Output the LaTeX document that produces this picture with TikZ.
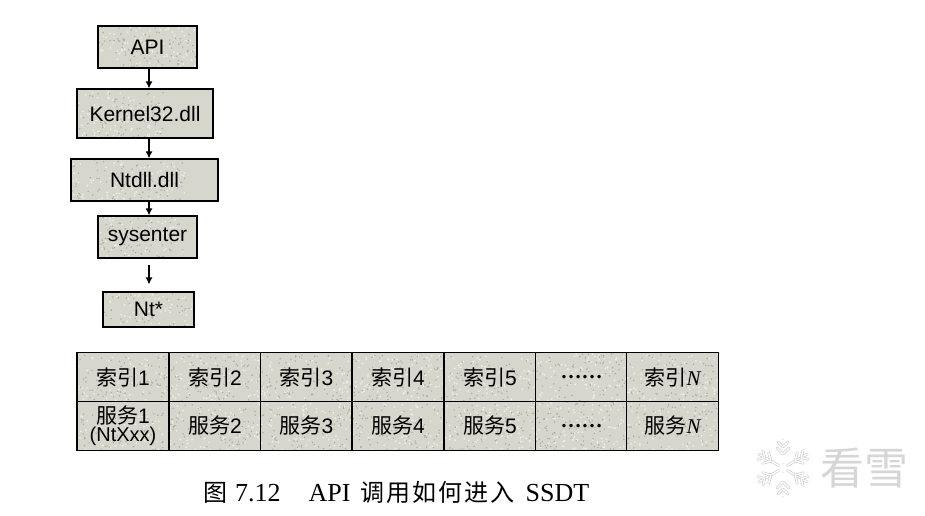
\documentclass[tikz,border=0pt]{standalone}
\usepackage{fontspec}
\setmainfont{Liberation Sans}
\newfontfamily\cjk{Noto Sans CJK SC}
\newfontfamily\capserif{Liberation Serif}
\newcommand{\Nit}{{\capserif\itshape N}}
\newcommand{\capcjk}[1]{{\cjk\fontsize{24}{25}\selectfont #1}\hspace{2pt}}
\pgfmathsetseed{712}
\tikzset{
  x=1pt,y=-1pt,
  speckled/.style={path picture={
    \begin{scope}[shift={(path picture bounding box.center)}]
      \foreach \i in {1,...,170}{\fill[specklight] (rand*75,rand*30) circle (1.0);}
      \foreach \i in {1,...,170}{\fill[speckdark] (rand*75,rand*30) circle (0.8);}
    \end{scope}}},
  boxbase/.style={draw=black,line width=1.2pt,fill=boxfill,speckled,inner sep=0pt,align=center,text=black,font=\fontsize{21}{22}\selectfont},
  flowbox/.style={boxbase,minimum width=#1},
  cell/.style={boxbase,minimum width=92,minimum height=48.5},
  flowarrow/.style={draw=black,line width=1.2pt,-{Latex[length=7pt,width=7pt]}},
  wmark/.style={draw=wmgray,line width=0.7pt,double=white,double distance=1.3pt,line cap=round}
}
\definecolor{boxfill}{HTML}{D6D6CC}
\definecolor{specklight}{HTML}{EEEEE8}
\definecolor{speckdark}{HTML}{ABABA2}
\definecolor{wmgray}{HTML}{CFCFCF}
\usetikzlibrary{arrows.meta}
\begin{document}
\begin{tikzpicture}
\useasboundingbox (0,0) rectangle (925,515);
\coordinate (axis) at (149,0);
\node[flowbox=99,minimum height=42] (api) at (147.5,47) {API};
\node[flowbox=136,minimum height=49] (kern) at (145,113.5) {Kernel32.dll};
\node[flowbox=147,minimum height=42] (ntdll) at (144.5,180) {Ntdll.dll};
\node[flowbox=99,minimum height=42] (sys) at (147.5,237) {sysenter};
\node[flowbox=91,minimum height=35] (nt) at (148.5,309.5) {Nt*};
\draw[flowarrow] (api.south -| axis) -- (kern.north -| axis);
\draw[flowarrow] (kern.south -| axis) -- (ntdll.north -| axis);
\draw[flowarrow] (ntdll.south -| axis) -- (sys.north -| axis);
\draw[flowarrow,shorten <=6pt,shorten >=7pt] (sys.south -| axis) -- (nt.north -| axis);
% table
\node[cell] (i1) at (123,377) {{\cjk 索引}1};
\node[cell] (i2) at (215,377) {{\cjk 索引}2};
\node[cell] (i3) at (306.5,377) {{\cjk 索引}3};
\node[cell] (i4) at (398,377) {{\cjk 索引}4};
\node[cell] (i5) at (490,377) {{\cjk 索引}5};
\node[cell] (idots) at (581.5,377) {{\capserif\bfseries ……}};
\node[cell] (iN) at (672.5,377) {{\cjk 索引}\Nit};
\node[cell] (s1) at (123,426) {{\cjk 服务}1\\[-4pt]{\fontsize{20}{20}\selectfont (NtXxx)}};
\node[cell] (s2) at (215,426) {{\cjk 服务}2};
\node[cell] (s3) at (306.5,426) {{\cjk 服务}3};
\node[cell] (s4) at (398,426) {{\cjk 服务}4};
\node[cell] (s5) at (490,426) {{\cjk 服务}5};
\node[cell] (sdots) at (581.5,426) {{\capserif\bfseries ……}};
\node[cell] (sN) at (672.5,426) {{\cjk 服务}\Nit};
% caption
\node[anchor=west,inner sep=0pt,text=black,font=\capserif\fontsize{26}{27}\selectfont] (cap) at (203,492) {\capcjk{图}\hspace{6pt}7.12\hspace{28pt}API\hspace{10pt}\capcjk{调}\capcjk{用}\capcjk{如}\capcjk{何}\capcjk{进}\capcjk{入}\hspace{9pt}SSDT};
% watermark
\begin{scope}[shift={(783,468)}]
  \foreach \a in {30,90,150,210,270,330}{
    \begin{scope}[rotate=\a]
      \draw[wmark] (5,0) -- (28,0);
      \draw[wmark] (14,0) -- (20,-6) (14,0) -- (20,6);
      \draw[wmark] (21,0) -- (26,-5) (21,0) -- (26,5);
    \end{scope}}
\end{scope}
\node[inner sep=0pt,text=wmgray!85,font=\cjk\fontsize{44}{44}\selectfont] (wm) at (864,468) {看雪};
\end{tikzpicture}
\end{document}
